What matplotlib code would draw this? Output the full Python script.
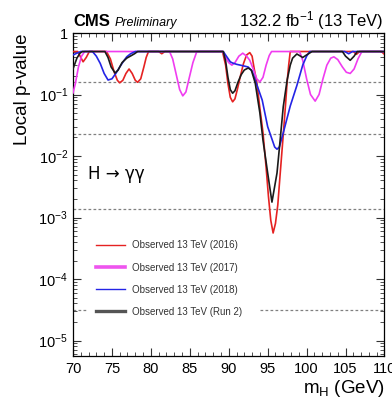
import numpy as np
import matplotlib
matplotlib.use('Agg')
import matplotlib.pyplot as plt
from matplotlib.lines import Line2D

plt.rcParams['font.family'] = ['Liberation Sans', 'DejaVu Sans']
plt.rcParams['mathtext.fontset'] = 'custom'
plt.rcParams['mathtext.rm'] = 'Liberation Sans'
plt.rcParams['mathtext.it'] = 'Liberation Sans:italic'
plt.rcParams['mathtext.bf'] = 'Liberation Sans:bold'

# Observed local p-values vs mass hypothesis (GeV), capped at 0.5
m_2016 = [70.0, 70.6, 71.0, 71.3, 71.7, 72.1, 74.3, 74.8, 75.3, 75.7, 76.0, 76.4, 76.8,
          77.2, 77.6, 78.0, 78.3, 78.7, 79.1, 79.4, 79.7, 81.0, 81.4, 81.8, 89.2, 89.6,
          89.9, 90.2, 90.5, 90.8, 91.1, 91.5, 91.9, 92.3, 92.7, 93.0, 93.3, 93.6, 94.0,
          94.4, 94.8, 95.1, 95.4, 95.7, 96.0, 96.3, 96.6, 97.0, 97.3, 97.5, 97.7, 97.9,
          106.0, 106.4, 106.8, 109.6, 110.0]
p_2016 = [0.5, 0.5, 0.40, 0.34, 0.40, 0.5, 0.5, 0.38, 0.23, 0.17, 0.155, 0.17, 0.22,
          0.26, 0.22, 0.17, 0.158, 0.18, 0.28, 0.40, 0.5, 0.5, 0.46, 0.5, 0.5, 0.30,
          0.15, 0.09, 0.076, 0.085, 0.12, 0.20, 0.32, 0.44, 0.48, 0.42, 0.25, 0.16, 0.06,
          0.024, 0.0065, 0.0022, 0.0009, 0.00056, 0.0008, 0.0016, 0.005, 0.022, 0.07, 0.16, 0.3, 0.5,
          0.5, 0.45, 0.5, 0.5, 0.45]

m_2017 = [70.0, 70.3, 70.7, 71.1, 71.5, 82.4, 82.8, 83.3, 83.7, 84.1, 84.5, 84.9, 85.4,
          85.9, 89.2, 89.6, 90.0, 90.4, 90.8, 91.3, 91.8, 92.3, 92.7, 93.2, 93.6, 94.0,
          94.4, 94.8, 95.2, 95.5, 99.1, 99.5, 100.0, 100.5, 101.1, 101.6, 102.1, 102.6,
          103.1, 103.5, 104.0, 104.6, 105.1, 105.6, 106.1, 106.6, 107.1, 110.0]
p_2017 = [0.106, 0.15, 0.28, 0.42, 0.5, 0.5, 0.38, 0.2, 0.12, 0.095, 0.11, 0.18, 0.33,
          0.5, 0.5, 0.40, 0.33, 0.30, 0.33, 0.42, 0.47, 0.42, 0.36, 0.25, 0.18, 0.16,
          0.19, 0.3, 0.43, 0.5, 0.5, 0.36, 0.18, 0.10, 0.078, 0.10, 0.18, 0.30,
          0.39, 0.41, 0.37, 0.28, 0.23, 0.22, 0.26, 0.38, 0.5, 0.5]

m_2018 = [70.0, 70.5, 71.0, 72.5, 73.0, 73.5, 74.0, 74.5, 75.0, 75.5, 76.0, 76.5, 76.9,
          77.4, 78.0, 89.3, 89.7, 90.2, 90.5, 91.0, 91.5, 92.0, 92.5, 93.0, 93.4, 94.3,
          95.0, 95.9, 96.2, 96.5, 97.0, 97.9, 98.75, 99.5, 100.0, 100.4, 104.9, 105.4,
          105.9, 110.0]
p_2018 = [0.44, 0.47, 0.5, 0.5, 0.42, 0.32, 0.22, 0.172, 0.18, 0.22, 0.28, 0.35, 0.41,
          0.46, 0.5, 0.5, 0.42, 0.34, 0.325, 0.31, 0.30, 0.29, 0.28, 0.24, 0.172, 0.081,
          0.030, 0.014, 0.0129, 0.014, 0.0237, 0.065, 0.14, 0.30, 0.42, 0.5, 0.5, 0.46,
          0.5, 0.5]

m_run2 = [70.0, 70.5, 70.9, 71.2, 74.1, 74.5, 74.9, 75.4, 75.8, 76.3, 76.9, 77.5, 77.9,
          78.3, 89.3, 89.6, 89.9, 90.2, 90.5, 90.8, 91.2, 91.6, 92.0, 92.5, 92.9, 93.4,
          94.0, 94.4, 95.0, 95.55, 96.2, 96.6, 97.0, 97.5, 97.9, 98.2, 98.75, 99.5,
          100.0, 100.7, 104.6, 105.0, 105.6, 106.1, 106.5, 110.0]
p_run2 = [0.26, 0.39, 0.47, 0.5, 0.5, 0.40, 0.28, 0.224, 0.25, 0.33, 0.39, 0.43, 0.46,
          0.5, 0.5, 0.35, 0.19, 0.12, 0.105, 0.115, 0.16, 0.21, 0.25, 0.27, 0.25, 0.154,
          0.05, 0.018, 0.0053, 0.00178, 0.0053, 0.018, 0.063, 0.172, 0.30, 0.39, 0.456, 0.40,
          0.44, 0.5, 0.5, 0.42, 0.36, 0.42, 0.5, 0.5]

# 1, 2, 3, 4 sigma reference p-values
sigma_p = [0.1587, 0.02275, 0.00135, 3.17e-5]

labels = ['Observed 13 TeV (2016)', 'Observed 13 TeV (2017)',
          'Observed 13 TeV (2018)', 'Observed 13 TeV (Run 2)']
colors = ['#e52222', '#f03cf0', '#2424e6', '#1a1a1a']

fig = plt.figure(figsize=(3.92, 4.07), dpi=100)
ax = fig.add_axes([0.1862, 0.1253, 0.7946, 0.7936])

# reference lines
dash = (0, (2.2, 1.8))
for p in sigma_p[:3]:
    ax.axhline(p, color='#808080', lw=0.9, ls=dash, zorder=1)
ax.axhline(sigma_p[3], xmin=0.0, xmax=0.048, color='#808080', lw=0.9, ls=dash, zorder=1)
ax.axhline(sigma_p[3], xmin=0.60, xmax=1.0, color='#808080', lw=0.9, ls=dash, zorder=1)

series = [(m_2016, p_2016), (m_2017, p_2017), (m_2018, p_2018), (m_run2, p_run2)]
for (m, p), c in zip(series, colors):
    ax.plot(m, p, color=c, lw=1.2, zorder=3)

ax.set_yscale('log')
ax.set_xlim(70, 110)
ax.set_ylim(5.6e-6, 1)

ax.set_xticks(np.arange(70, 111, 5))
ax.set_xticklabels(['70', '75', '80', '85', '90', '95', '100', '105', '110'])
ax.set_xticks(np.arange(70, 111, 1), minor=True)
dec = [1e-5, 1e-4, 1e-3, 1e-2, 1e-1, 1]
ax.set_yticks(dec)
ax.set_yticklabels(['$10^{-5}$', '$10^{-4}$', '$10^{-3}$', '$10^{-2}$', '$10^{-1}$', '1'])
ax.yaxis.set_minor_locator(matplotlib.ticker.LogLocator(base=10, subs=np.arange(2, 10), numticks=20))
ax.yaxis.set_minor_formatter(matplotlib.ticker.NullFormatter())

ax.tick_params(which='both', direction='in', top=True, right=True, labelsize=10.5, color='#333333')
ax.tick_params(which='major', length=6, width=0.8)
ax.tick_params(which='minor', length=3, width=0.6)
ax.tick_params(axis='x', pad=4.5)
ax.tick_params(axis='y', pad=3.5)
for s in ax.spines.values():
    s.set_linewidth(0.9)

ax.set_ylabel('Local p-value', fontsize=13.5, loc='top')
ax.yaxis.set_label_coords(-0.135, 1.0)
ax.set_xlabel(r'm$_\mathrm{H}$ (GeV)', fontsize=13.5, loc='right')
ax.xaxis.set_label_coords(1.0, -0.068)

ax.text(0.0, 1.022, 'CMS', transform=ax.transAxes, fontsize=12, fontweight='bold',
        ha='left', va='baseline')
ax.text(0.135, 1.022, 'Preliminary', transform=ax.transAxes, fontsize=9, style='italic',
        ha='left', va='baseline')
ax.text(0.995, 1.022, r'132.2 fb$^{-1}$ (13 TeV)', transform=ax.transAxes, fontsize=12,
        ha='right', va='baseline')
ax.text(0.048, 0.565, 'H \u2192 \u03b3\u03b3', transform=ax.transAxes, fontsize=12,
        family=['DejaVu Sans'], ha='left', va='center')

handles = [Line2D([], [], color=colors[0], lw=1.0),
           Line2D([], [], color='#ee55ee', lw=2.6),
           Line2D([], [], color=colors[2], lw=1.0),
           Line2D([], [], color='#555555', lw=2.4)]
ax.legend(handles, labels, loc='upper left', bbox_to_anchor=(0.074, 0.358),
          frameon=False, fontsize=7, borderpad=0, borderaxespad=0,
          handlelength=3.0, handletextpad=0.7, labelspacing=1.25, labelcolor='#333333')

plt.savefig('out.png', dpi=100)
